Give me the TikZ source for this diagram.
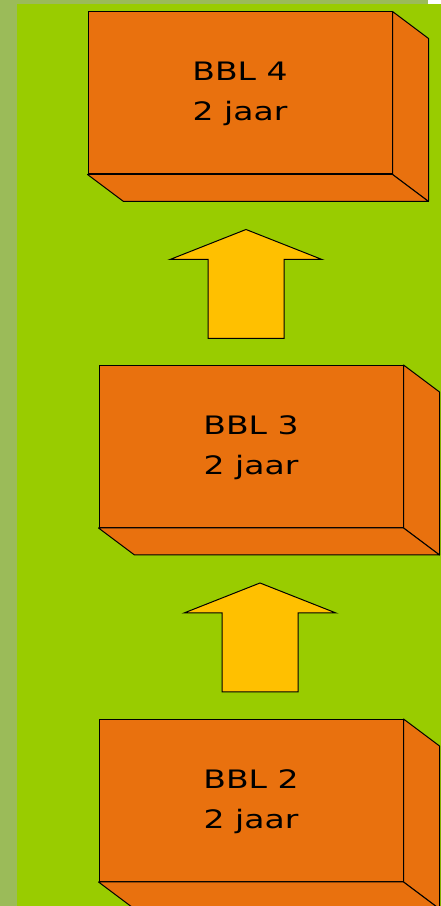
\documentclass[tikz,border=0pt]{standalone}
\usepackage{fontspec}
\setmainfont{DejaVu Sans}
\usetikzlibrary{calc}
\definecolor{rand}{RGB}{155,187,89}
\definecolor{veld}{RGB}{153,204,0}
\definecolor{blokOranje}{RGB}{233,113,14}
\definecolor{pijlGeel}{RGB}{255,192,0}
\newcommand{\breed}[1]{\scalebox{1.3}[1]{\begin{tabular}{@{}c@{}}#1\end{tabular}}}

\begin{document}
\begin{tikzpicture}[x=1pt, y=1pt,
    blok/.style={draw, fill=blokOranje, line width=1pt, minimum width=304pt, minimum height=162pt, inner sep=0pt, font=\fontsize{25.4}{40}\selectfont},
    zijkant/.style={draw, fill=blokOranje, line width=1pt, line join=round},
    pijl/.style={draw, fill=pijlGeel, line width=1pt, line join=miter},
]
\useasboundingbox (0,0) rectangle (441,906);
\clip (0,0) rectangle (441,906);
% Achtergrond
\fill[rand] (0,0) rectangle (441,906);
\fill[veld] (17,0) rectangle (441,902);
\fill[white] (428,902) rectangle (441,906);

% Blokken
\node[blok] (b4) at (240,813) {\breed{BBL 4\\2 jaar}};
\node[blok] (b3) at (251,459.5) {\breed{BBL 3\\2 jaar}};
\node[blok] (b2) at (251,105.5) {\breed{BBL 2\\2 jaar}};

% Diepte (zijkant + onderkant)
\foreach \b in {b4,b3,b2} {
  \draw[zijkant] (\b.north east) -- ++(36,-27) -- ($(\b.south east)+(36,-27)$) -- (\b.south east) -- cycle;
  \draw[zijkant] (\b.south west) -- (\b.south east) -- ++(36,-27) -- ($(\b.south west)+(36,-27)$) -- cycle;
}

% Pijlen
\coordinate (p1) at ($(b4.south)+(6,-55)$);
\coordinate (p2) at ($(b3.south)+(9,-55)$);
\foreach \p in {p1,p2}
  \draw[pijl] (\p) -- ++(76,-30) -- ++(-38,0) -- ++(0,-79) -- ++(-76,0) -- ++(0,79) -- ++(-38,0) -- cycle;
\end{tikzpicture}
\end{document}
